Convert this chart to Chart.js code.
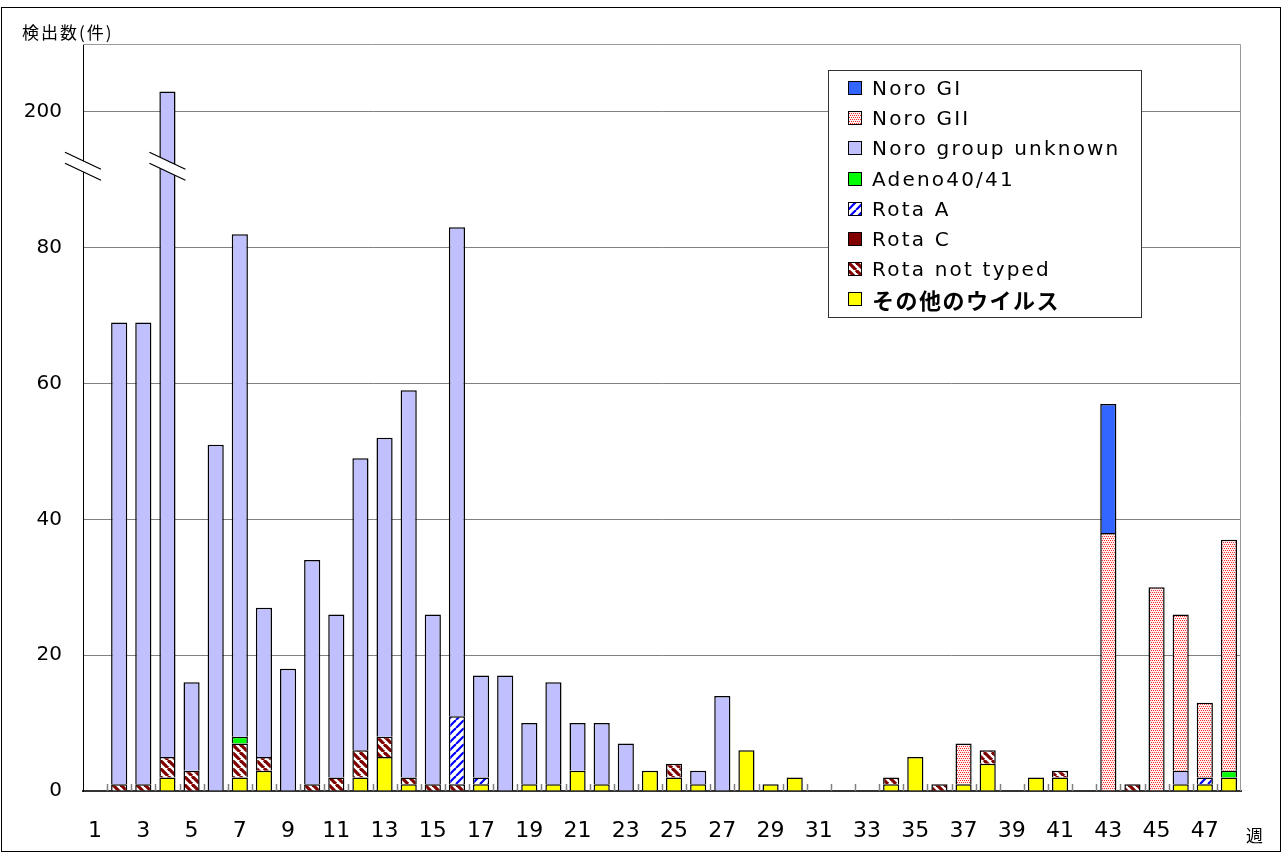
<!DOCTYPE html>
<html lang="ja">
<head>
<meta charset="utf-8">
<title>週別ウイルス検出数</title>
<script src="https://cdn.jsdelivr.net/npm/chart.js@4.4.1/dist/chart.umd.min.js"></script>
<style>
  body { margin: 0; background: #fff; }
  #wrap { position: relative; width: 1282px; height: 852px; overflow: hidden; background: #fff; }
  #c { position: absolute; left: 0; top: 0; }
  #frame { position: absolute; left: 1px; top: 7px; width: 1280px; height: 845px; box-sizing: border-box; border: 1px solid #000; pointer-events: none; }
  .lbl { position: absolute; font-family: 'Noto Sans CJK JP', sans-serif; color: #000; white-space: nowrap; }
  #ytitle { left: 22px; top: 22px; font-size: 17px; line-height: 20px; letter-spacing: 2px; }
  #xunit { left: 1246px; top: 825px; font-size: 17px; line-height: 20px; }
  #legend { position: absolute; left: 828px; top: 70px; width: 314px; height: 248px; box-sizing: border-box; border: 1px solid #333; background: #fff; }
  .row { position: absolute; left: 19px; height: 30px; display: flex; align-items: center; white-space: nowrap; }
  .row canvas { width: 14px; height: 14px; margin-right: 10px; }
  .row span { font-family: 'Century Gothic', 'DejaVu Sans', sans-serif; font-size: 20px; letter-spacing: 2.2px; color: #000; }
  .row span.ja { font-family: 'Noto Sans CJK JP', sans-serif; font-size: 22px; font-weight: bold; letter-spacing: 1.5px; }
</style>
</head>
<body>
<div id="wrap">
  <canvas id="c" width="1282" height="852"></canvas>
  <div id="frame"></div>
  <div class="lbl" id="ytitle">検出数(件)</div>
  <div class="lbl" id="xunit">週</div>
  <div id="legend"></div>
</div>
<script>
// 週 (1〜48)
const weeks = ['1','2','3','4','5','6','7','8','9','10','11','12','13','14','15','16',
               '17','18','19','20','21','22','23','24','25','26','27','28','29','30','31','32',
               '33','34','35','36','37','38','39','40','41','42','43','44','45','46','47','48'];

// 検出数 (件) 週ごと
const otherVirus   = [0,0,0,2,0,0,2,3,0,0,0,2,5,1,0,0, 1,0,1,1,3,1,0,3,2,1,0,6,1,2,0,0, 0,1,5,0,1,4,0,2,2,0,0,0,0,1,1,2];
const rotaNotTyped = [0,1,1,3,3,0,5,2,0,1,2,4,3,1,1,1, 0,0,0,0,0,0,0,0,2,0,0,0,0,0,0,0, 0,1,0,1,0,2,0,0,1,0,0,1,0,0,0,0];
const rotaC        = [0,0,0,0,0,0,0,0,0,0,0,0,0,0,0,0, 0,0,0,0,0,0,0,0,0,0,0,0,0,0,0,0, 0,0,0,0,0,0,0,0,0,0,0,0,0,0,0,0];
const rotaA        = [0,0,0,0,0,0,0,0,0,0,0,0,0,0,0,10, 1,0,0,0,0,0,0,0,0,0,0,0,0,0,0,0, 0,0,0,0,0,0,0,0,0,0,0,0,0,0,1,0];
const adeno        = [0,0,0,0,0,0,1,0,0,0,0,0,0,0,0,0, 0,0,0,0,0,0,0,0,0,0,0,0,0,0,0,0, 0,0,0,0,0,0,0,0,0,0,0,0,0,0,0,1];
const noroUnknown  = [0,68,68,198,13,51,74,22,18,33,24,43,44,57,25,72, 15,17,9,15,7,9,7,0,0,2,14,0,0,0,0,0, 0,0,0,0,0,0,0,0,0,0,0,0,0,2,0,0];
const noroGII      = [0,0,0,0,0,0,0,0,0,0,0,0,0,0,0,0, 0,0,0,0,0,0,0,0,0,0,0,0,0,0,0,0, 0,0,0,0,6,0,0,0,0,0,38,0,30,23,11,34];
const noroGI       = [0,0,0,0,0,0,0,0,0,0,0,0,0,0,0,0, 0,0,0,0,0,0,0,0,0,0,0,0,0,0,0,0, 0,0,0,0,0,0,0,0,0,0,19,0,0,0,0,0];

// y軸の目盛り (100の位置に "200" を表示、途中を省略)
const yTicks = [0, 20, 40, 60, 80, 100];
const AXIS_SHIFT = 100;
const BREAK_AT = 92;

const FONT_NUM = "'Century Gothic', 'DejaVu Sans', sans-serif";

// 模様のタイル
function makeTile(kind) {
    const t = document.createElement('canvas');
    t.width = 8; t.height = 8;
    const g = t.getContext('2d');
    g.fillStyle = '#fff';
    g.fillRect(0, 0, 8, 8);
    if (kind === 'rotaNT') {
        g.strokeStyle = '#800000';
        g.lineWidth = 3.2;
        for (const k of [-8, 0, 8]) { g.beginPath(); g.moveTo(k, 0); g.lineTo(k + 8, 8); g.stroke(); }
    } else if (kind === 'rotaA') {
        g.strokeStyle = '#0000ff';
        g.lineWidth = 2.2;
        for (const k of [-8, 0, 8]) { g.beginPath(); g.moveTo(k, 8); g.lineTo(k + 8, 0); g.stroke(); }
    } else if (kind === 'gii') {
        g.fillStyle = '#fff0f0';
        g.fillRect(0, 0, 8, 8);
        g.fillStyle = '#ff2828';
        for (let y = 0; y < 8; y += 2) {
            for (let x = (y % 4 === 0 ? 0 : 1); x < 8; x += 2) g.fillRect(x, y, 1, 1);
        }
    }
    return t;
}

const tiles = { rotaNT: makeTile('rotaNT'), rotaA: makeTile('rotaA'), gii: makeTile('gii') };

// 積み上げ順 (下から)
const series = [
    { label: 'その他のウイルス',   data: otherVirus,   fill: '#ffff00' },
    { label: 'Rota not typed',     data: rotaNotTyped, fill: 'rotaNT' },
    { label: 'Rota C',             data: rotaC,        fill: '#800000' },
    { label: 'Rota A',             data: rotaA,        fill: 'rotaA' },
    { label: 'Adeno40/41',         data: adeno,        fill: '#00ff00' },
    { label: 'Noro group unknown', data: noroUnknown,  fill: '#c0c0ff' },
    { label: 'Noro GII',           data: noroGII,      fill: 'gii' },
    { label: 'Noro GI',            data: noroGI,       fill: '#3366ff' }
];

function paintFor(ctx, fill) {
    return tiles[fill] ? ctx.createPattern(tiles[fill], 'repeat') : fill;
}

const totals = weeks.map((w, i) => series.reduce((s, d) => s + d.data[i], 0));

// 省略部分の波線と枠・目盛り
const decorations = {
    id: 'decorations',
    beforeDatasetsDraw(chart) {
        const { ctx, chartArea: a, scales: { x } } = chart;
        ctx.save();
        ctx.strokeStyle = '#999';
        ctx.lineWidth = 1;
        ctx.beginPath();
        ctx.moveTo(a.left, a.top + 0.5);
        ctx.lineTo(a.right - 0.5, a.top + 0.5);
        ctx.lineTo(a.right - 0.5, a.bottom);
        ctx.stroke();

        const w = (a.right - a.left) / weeks.length;
        ctx.strokeStyle = '#808080';
        ctx.lineWidth = 1.5;
        for (let i = 1; i < weeks.length; i++) {
            const px = Math.round(x.getPixelForValue(i) - w / 2) + 0.5;
            ctx.beginPath();
            ctx.moveTo(px, a.bottom);
            ctx.lineTo(px, a.bottom - 7);
            ctx.stroke();
        }
        ctx.restore();
    },
    afterDatasetsDraw(chart) {
        const { ctx, chartArea: a, scales: { x, y } } = chart;
        const cy = y.getPixelForValue(BREAK_AT);
        const marks = [a.left];
        totals.forEach((t, i) => { if (t > AXIS_SHIFT) marks.push(x.getPixelForValue(i)); });
        marks.forEach(cx => {
            ctx.save();
            ctx.fillStyle = '#fff';
            ctx.beginPath();
            ctx.moveTo(cx - 18, cy - 14);
            ctx.lineTo(cx + 18, cy + 3);
            ctx.lineTo(cx + 18, cy + 14);
            ctx.lineTo(cx - 18, cy - 3);
            ctx.closePath();
            ctx.fill();
            ctx.strokeStyle = '#000';
            ctx.lineWidth = 1.3;
            ctx.beginPath();
            ctx.moveTo(cx - 18, cy - 14);
            ctx.lineTo(cx + 18, cy + 3);
            ctx.moveTo(cx - 18, cy - 3);
            ctx.lineTo(cx + 18, cy + 14);
            ctx.stroke();
            ctx.restore();
        });
    }
};

const canvas = document.getElementById('c');
const ctx = canvas.getContext('2d');

const datasets = series.map(s => ({
    label: s.label,
    data: s.data.map(v => v > AXIS_SHIFT ? v - AXIS_SHIFT : v),
    backgroundColor: paintFor(ctx, s.fill),
    borderColor: '#000',
    borderWidth: 1.5,
    barPercentage: 0.67,
    categoryPercentage: 1,
    stack: 'all'
}));

new Chart(ctx, {
    type: 'bar',
    data: { labels: weeks, datasets: datasets },
    options: {
        responsive: false,
        animation: false,
        layout: { padding: { top: 44, right: 41, left: 0, bottom: 0 } },
        plugins: { legend: { display: false }, tooltip: { enabled: false } },
        scales: {
            x: {
                stacked: true,
                grid: { display: false, drawTicks: false },
                border: { color: '#333', width: 2 },
                ticks: {
                    autoSkip: false,
                    maxRotation: 0,
                    padding: 27,
                    color: '#000',
                    font: { family: FONT_NUM, size: 22 },
                    callback: (v, i) => i % 2 === 0 ? weeks[i] : ''
                },
                afterFit: s => { s.height = 61; }
            },
            y: {
                stacked: true,
                min: 0,
                max: 110,
                afterBuildTicks: s => { s.ticks = yTicks.map(v => ({ value: v })); },
                grid: {
                    color: c => c.tick && c.tick.value === 0 ? 'rgba(0,0,0,0)' : '#808080',
                    drawTicks: false
                },
                border: { color: '#000', width: 1 },
                ticks: {
                    padding: 21,
                    color: '#000',
                    font: { family: FONT_NUM, size: 20 },
                    callback: v => v === AXIS_SHIFT ? String(v + AXIS_SHIFT) : String(v)
                },
                afterFit: s => { s.width = 83; }
            }
        }
    },
    plugins: [decorations]
});

// 凡例 (上から Noro GI ...)
const legend = document.getElementById('legend');
series.slice().reverse().forEach((s, i) => {
    const row = document.createElement('div');
    row.className = 'row';
    row.style.top = (2 + i * 30.2) + 'px';
    const sw = document.createElement('canvas');
    sw.width = 14; sw.height = 14;
    const g = sw.getContext('2d');
    g.fillStyle = paintFor(g, s.fill);
    g.fillRect(0, 0, 14, 14);
    g.strokeStyle = '#000';
    g.lineWidth = 1;
    g.strokeRect(0.5, 0.5, 13, 13);
    const tx = document.createElement('span');
    tx.textContent = s.label;
    if (/[^\x00-\x7f]/.test(s.label)) tx.className = 'ja';
    row.appendChild(sw);
    row.appendChild(tx);
    legend.appendChild(row);
});
</script>
</body>
</html>
